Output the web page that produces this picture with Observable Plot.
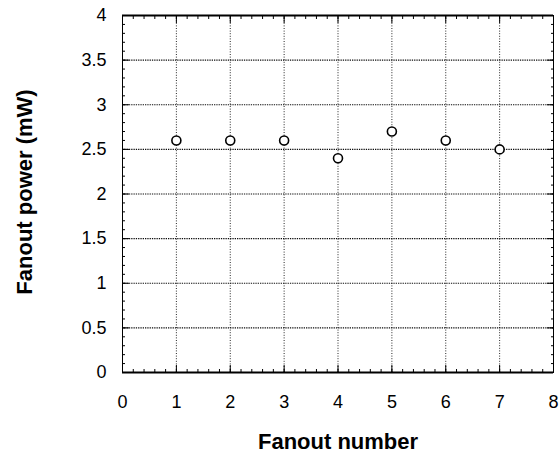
<!DOCTYPE html>
<html>
<head>
<meta charset="utf-8">
<script src="https://cdn.jsdelivr.net/npm/d3@7"></script>
<script src="https://cdn.jsdelivr.net/npm/@observablehq/plot@0.6"></script>
<style>
  html, body { margin: 0; padding: 0; background: #fff; }
</style>
</head>
<body>
<div id="chart"></div>
<script>
// Data
const fanoutNumber = [1, 2, 3, 4, 5, 6, 7];
const fanoutPower = [2.6, 2.6, 2.6, 2.4, 2.7, 2.6, 2.5];

// Axes / ticks
const xTicks = [0, 1, 2, 3, 4, 5, 6, 7, 8];
const yTicks = [0, 0.5, 1, 1.5, 2, 2.5, 3, 3.5, 4];
const xGrid = [1, 2, 3, 4, 5, 6, 7];
const yGrid = [0.5, 1, 1.5, 2, 2.5, 3, 3.5];
const xMinor = d3.range(0, 8.001, 0.2).map(v => +v.toFixed(1));
const yMinor = d3.range(0, 4.001, 0.1).map(v => +v.toFixed(1));
const xTitle = ["Fanout number"];
const yTitle = ["Fanout power (mW)"];

const points = fanoutNumber.map((x, i) => ({x, y: fanoutPower[i]}));

const tickAxis = (fn, anchor, ticks, size) =>
  fn({anchor, ticks, tickSize: size, tickFormat: () => "", label: null});

const chart = Plot.plot({
  width: 559,
  height: 454,
  marginLeft: 122,
  marginRight: 6,
  marginTop: 15,
  marginBottom: 82,
  x: {domain: [0, 8]},
  y: {domain: [0, 4]},
  style: {fontFamily: "'Liberation Sans', Arial, Helvetica, sans-serif", fontSize: "18px", background: "#fff", color: "#000"},
  marks: [
    Plot.gridX(xGrid, {stroke: "#000", strokeOpacity: 0.85, strokeWidth: 1, strokeDasharray: "1,1.6"}),
    Plot.gridY(yGrid, {stroke: "#000", strokeOpacity: 0.95, strokeWidth: 1.2, strokeDasharray: "1.3,1"}),
    Plot.frame({stroke: "#000", strokeWidth: 1}),
    Plot.ruleY([0, 4], {stroke: "#000", strokeWidth: 1.8}),
    // inward minor ticks
    tickAxis(Plot.axisX, "bottom", xMinor, -3),
    tickAxis(Plot.axisX, "top", xMinor, -3),
    tickAxis(Plot.axisY, "left", yMinor, -3),
    tickAxis(Plot.axisY, "right", yMinor, -3),
    // inward major ticks
    tickAxis(Plot.axisX, "bottom", xTicks, -7),
    tickAxis(Plot.axisX, "top", xTicks, -7),
    tickAxis(Plot.axisY, "left", yTicks, -7),
    tickAxis(Plot.axisY, "right", yTicks, -7),
    // tick labels
    Plot.axisX({anchor: "bottom", ticks: xTicks, tickSize: 0, tickPadding: 23, tickFormat: d => String(d), label: null}),
    Plot.axisY({anchor: "left", ticks: yTicks, tickSize: 0, tickPadding: 16, tickFormat: d => String(d), label: null}),
    // titles
    Plot.text(xTitle, {frameAnchor: "bottom", dy: 76, fontSize: 22, fontWeight: "bold", text: d => d}),
    Plot.text(yTitle, {frameAnchor: "left", dx: -98, dy: -2, rotate: -90, textAnchor: "middle", fontSize: 22, fontWeight: "bold", text: d => d}),
    // data
    Plot.dot(points, {x: "x", y: "y", r: 4.5, stroke: "#000", strokeWidth: 1.6, fill: "#fff"})
  ]
});
document.getElementById("chart").appendChild(chart);
</script>
</body>
</html>
